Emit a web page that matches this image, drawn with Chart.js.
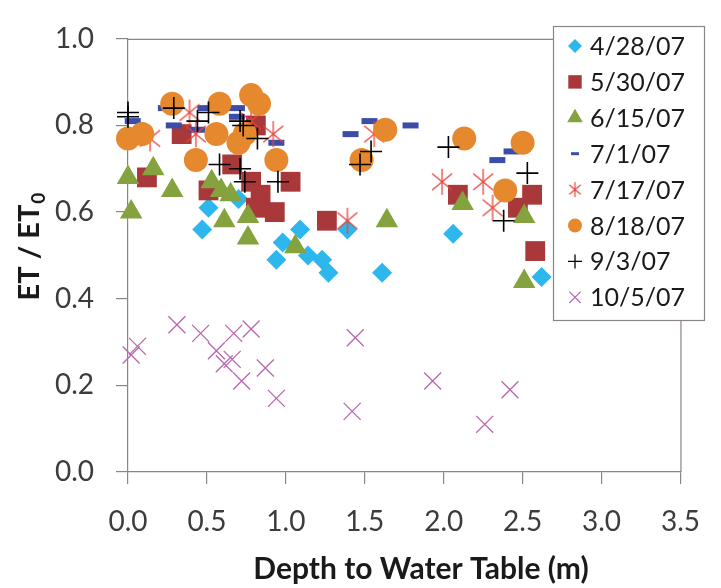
<!DOCTYPE html>
<html>
<head>
<meta charset="utf-8">
<script src="https://cdn.jsdelivr.net/npm/chart.js@4.4.1/dist/chart.umd.min.js"></script>
<style>
    html, body { margin: 0; padding: 0; background: #fff; }
    #wrap { width: 721px; height: 588px; }
</style>
</head>
<body>
<div id="wrap"><canvas id="chart" width="721" height="588"></canvas></div>
<script>
'use strict';

const xTicks = [0, 0.5, 1, 1.5, 2, 2.5, 3, 3.5];
const yTicks = [0, 0.2, 0.4, 0.6, 0.8, 1.0];

const seriesLabels = ['4/28/07', '5/30/07', '6/15/07', '7/1/07', '7/17/07', '8/18/07', '9/3/07', '10/5/07'];

const depthApr28 = [0.47, 0.51, 0.70, 0.98, 0.94, 1.09, 1.14, 1.23, 1.27, 1.39, 1.61, 2.06, 2.62];
const etApr28 = [0.56, 0.61, 0.63, 0.53, 0.49, 0.56, 0.50, 0.49, 0.46, 0.56, 0.46, 0.55, 0.45];

const depthMay30 = [0.12, 0.34, 0.51, 0.66, 0.81, 0.78, 0.84, 0.93, 1.03, 0.81, 1.26, 2.09, 2.47, 2.56, 2.58];
const etMay30 = [0.68, 0.78, 0.65, 0.71, 0.80, 0.67, 0.64, 0.60, 0.67, 0.61, 0.58, 0.64, 0.61, 0.64, 0.51];

const depthJun15 = [0.00, 0.02, 0.16, 0.28, 0.53, 0.59, 0.65, 0.61, 0.76, 0.76, 1.06, 1.64, 2.12, 2.51, 2.51];
const etJun15 = [0.68, 0.60, 0.70, 0.65, 0.67, 0.65, 0.64, 0.58, 0.59, 0.54, 0.52, 0.58, 0.62, 0.59, 0.44];

const depthJul01 = [0.03, 0.24, 0.29, 0.44, 0.49, 0.69, 0.69, 0.94, 1.41, 1.53, 1.79, 2.34, 2.43];
const etJul01 = [0.81, 0.84, 0.80, 0.79, 0.84, 0.84, 0.82, 0.76, 0.78, 0.81, 0.80, 0.72, 0.74];

const depthJul17 = [0.14, 0.39, 0.43, 0.78, 0.92, 1.39, 1.56, 1.99, 2.25, 2.31];
const etJul17 = [0.77, 0.83, 0.78, 0.81, 0.78, 0.58, 0.78, 0.67, 0.67, 0.61];

const depthAug18 = [0.00, 0.09, 0.28, 0.43, 0.58, 0.56, 0.70, 0.74, 0.78, 0.83, 0.94, 1.48, 1.63, 2.13, 2.39, 2.50];
const etAug18 = [0.77, 0.78, 0.85, 0.72, 0.85, 0.78, 0.76, 0.78, 0.87, 0.85, 0.72, 0.72, 0.79, 0.77, 0.65, 0.76];

const depthSep03 = [0.00, 0.00, 0.29, 0.44, 0.51, 0.71, 0.73, 0.82, 0.58, 0.71, 0.74, 0.95, 1.47, 1.54, 2.03, 2.38, 2.53];
const etSep03 = [0.83, 0.82, 0.84, 0.81, 0.83, 0.81, 0.80, 0.77, 0.71, 0.70, 0.67, 0.67, 0.71, 0.74, 0.75, 0.58, 0.69];

const depthOct05 = [0.02, 0.06, 0.31, 0.46, 0.56, 0.61, 0.66, 0.67, 0.78, 0.72, 0.87, 0.94, 1.44, 1.42, 1.93, 2.26, 2.42];
const etOct05 = [0.27, 0.29, 0.34, 0.32, 0.28, 0.25, 0.26, 0.32, 0.33, 0.21, 0.24, 0.17, 0.31, 0.14, 0.21, 0.11, 0.19];

(function () {
    const FONT = 'Lato, "Open Sans", sans-serif';

    function pairs(xs, ys) {
        return xs.map(function (x, i) {
            return { x: x, y: ys[i] };
        });
    }

    // excel style asterisk: vertical stroke plus an X
    function makeAsterisk(size, color, width) {
        const c = document.createElement('canvas');
        c.width = size;
        c.height = size;
        const g = c.getContext('2d');
        const r = size / 2 - 1;
        g.strokeStyle = color;
        g.lineWidth = width;
        [90, 40, 140].forEach(function (deg) {
            const a = deg * Math.PI / 180;
            g.beginPath();
            g.moveTo(size / 2 - Math.cos(a) * r, size / 2 - Math.sin(a) * r);
            g.lineTo(size / 2 + Math.cos(a) * r, size / 2 + Math.sin(a) * r);
            g.stroke();
        });
        return c;
    }

    const starColor = '#E8453C';
    const starBig = makeAsterisk(28, starColor, 1.3);
    const starSmall = makeAsterisk(17, starColor, 1.2);

    const styles = [
        { pointStyle: 'rectRot', radius: 10, bg: '#2DB7EC', border: '#2DB7EC', borderWidth: 0, legendRadius: 7 },
        { pointStyle: 'rect', radius: 14, bg: '#A8383A', border: '#A8383A', borderWidth: 0, legendRadius: 9.5 },
        { pointStyle: 'triangle', radius: 13, bg: '#84A33E', border: '#84A33E', borderWidth: 0, legendRadius: 9 },
        { pointStyle: 'line', radius: 8, bg: '#3B4DA8', border: '#3B4DA8', borderWidth: 6, legendRadius: 4, legendWidth: 3 },
        { pointStyle: starBig, radius: 14, bg: starColor, border: starColor, borderWidth: 0, legendStyle: starSmall },
        { pointStyle: 'circle', radius: 12, bg: '#E6882E', border: '#E6882E', borderWidth: 0, legendRadius: 7 },
        { pointStyle: 'cross', radius: 11, bg: '#000', border: '#000', borderWidth: 1.6, legendRadius: 7, legendWidth: 1.3 },
        { pointStyle: 'crossRot', radius: 12, bg: '#B867AE', border: '#B867AE', borderWidth: 1.3, legendRadius: 8, legendWidth: 1.2 }
    ];

    const seriesData = [
        pairs(depthApr28, etApr28),
        pairs(depthMay30, etMay30),
        pairs(depthJun15, etJun15),
        pairs(depthJul01, etJul01),
        pairs(depthJul17, etJul17),
        pairs(depthAug18, etAug18),
        pairs(depthSep03, etSep03),
        pairs(depthOct05, etOct05)
    ];

    const datasets = seriesLabels.map(function (label, i) {
        const s = styles[i];
        return {
            label: label,
            data: seriesData[i],
            pointStyle: s.pointStyle,
            pointRadius: s.radius,
            pointHoverRadius: s.radius,
            pointBackgroundColor: s.bg,
            pointBorderColor: s.border,
            pointBorderWidth: s.borderWidth,
            showLine: false,
            clip: false,
            order: seriesLabels.length - i
        };
    });

    const frame = {
        id: 'frame',
        beforeDatasetsDraw: function (chart) {
            const a = chart.chartArea;
            const ctx = chart.ctx;
            ctx.save();
            ctx.strokeStyle = '#8C8585';
            ctx.lineWidth = 1.2;
            ctx.beginPath();
            ctx.moveTo(a.left, a.top + 0.5);
            ctx.lineTo(a.right + 0.5, a.top + 0.5);
            ctx.lineTo(a.right + 0.5, a.bottom);
            ctx.stroke();
            ctx.restore();
        }
    };

    const titles = {
        id: 'titles',
        afterDraw: function (chart) {
            const ctx = chart.ctx;
            ctx.save();
            ctx.fillStyle = '#1A1A1A';
            ctx.textBaseline = 'middle';
            ctx.textAlign = 'center';
            ctx.font = 'bold 30px ' + FONT;
            ctx.fillText('Depth to Water Table (m)', 421, 569);

            // rotated y title with subscript zero
            ctx.translate(30, 247);
            ctx.rotate(-Math.PI / 2);
            ctx.textAlign = 'left';
            ctx.font = 'bold 29px ' + FONT;
            const main = 'ET / ET';
            const wMain = ctx.measureText(main).width;
            ctx.font = 'bold 19px ' + FONT;
            const wSub = ctx.measureText('0').width;
            const start = -(wMain + wSub) / 2;
            ctx.font = 'bold 29px ' + FONT;
            ctx.fillText(main, start, 0);
            ctx.font = 'bold 19px ' + FONT;
            ctx.fillText('0', start + wMain + 1, 9);
            ctx.restore();
        }
    };

    const legendBox = {
        id: 'legendBox',
        afterDraw: function (chart) {
            const ctx = chart.ctx;
            ctx.save();
            ctx.fillStyle = '#FFFFFF';
            ctx.fillRect(553, 26, 151, 294);
            ctx.strokeStyle = '#8C8585';
            ctx.lineWidth = 1.2;
            ctx.strokeRect(553.5, 26.5, 151, 294);

            ctx.font = '25px ' + FONT;
            ctx.textBaseline = 'middle';
            ctx.textAlign = 'left';
            seriesLabels.forEach(function (label, i) {
                const s = styles[i];
                const y = 46 + i * 35.9;
                ctx.fillStyle = s.bg;
                ctx.strokeStyle = s.border;
                ctx.lineWidth = s.legendWidth || 0;
                Chart.helpers.drawPoint(ctx, {
                    pointStyle: s.legendStyle || s.pointStyle,
                    radius: s.legendRadius || 8,
                    rotation: 0,
                    borderWidth: s.legendWidth || 0
                }, 575, y);
                ctx.fillStyle = '#1A1A1A';
                ctx.fillText(label, 590, y + 1);
            });
            ctx.restore();
        }
    };

    Chart.defaults.font.family = FONT;

    new Chart(document.getElementById('chart'), {
        type: 'scatter',
        data: { datasets: datasets },
        options: {
            responsive: false,
            animation: false,
            layout: { padding: { top: 22, right: 33, left: 0, bottom: 0 } },
            plugins: {
                legend: { display: false },
                tooltip: { enabled: false }
            },
            scales: {
                x: {
                    type: 'linear',
                    min: xTicks[0],
                    max: xTicks[xTicks.length - 1],
                    afterBuildTicks: function (scale) {
                        scale.ticks = xTicks.map(function (v) { return { value: v }; });
                    },
                    afterFit: function (scale) {
                        scale.height = 116;
                    },
                    border: { color: '#8C8585', width: 1.2 },
                    grid: { drawOnChartArea: false, drawTicks: true, tickLength: 12, color: '#8C8585', lineWidth: 1.2 },
                    ticks: {
                        padding: 21,
                        color: '#3C3C3C',
                        font: { size: 28 },
                        maxRotation: 0,
                        callback: function (v) { return Number(v).toFixed(1); }
                    }
                },
                y: {
                    type: 'linear',
                    min: yTicks[0],
                    max: yTicks[yTicks.length - 1],
                    afterBuildTicks: function (scale) {
                        scale.ticks = yTicks.map(function (v) { return { value: v }; });
                    },
                    afterFit: function (scale) {
                        scale.width = 128;
                    },
                    border: { color: '#8C8585', width: 1.2 },
                    grid: { drawOnChartArea: false, drawTicks: true, tickLength: 12, color: '#8C8585', lineWidth: 1.2 },
                    ticks: {
                        padding: 22,
                        color: '#3C3C3C',
                        font: { size: 28 },
                        callback: function (v) { return Number(v).toFixed(1); }
                    }
                }
            }
        },
        plugins: [frame, titles, legendBox]
    });
})();
</script>
</body>
</html>
